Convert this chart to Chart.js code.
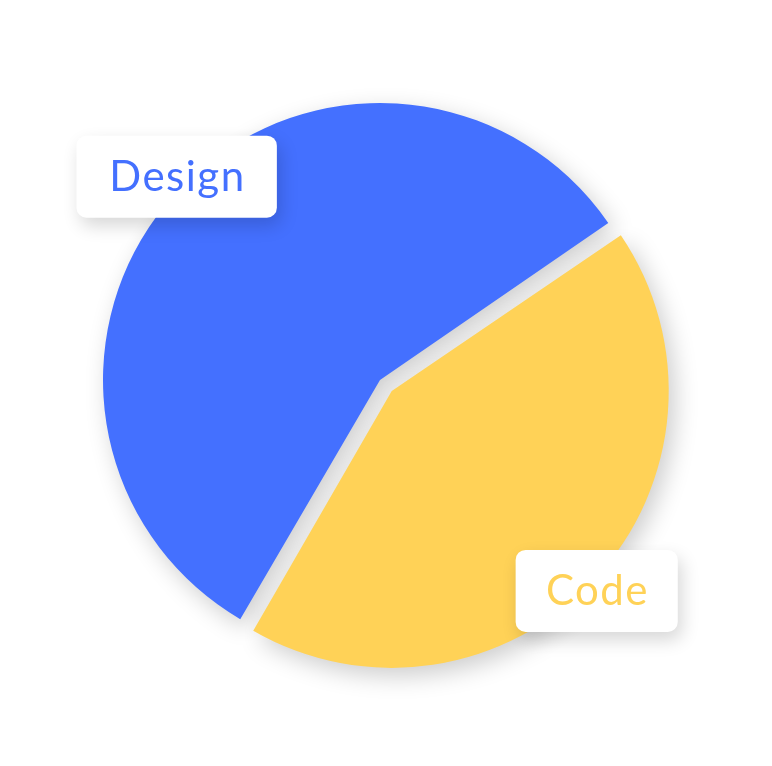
<!DOCTYPE html>
<html>
<head>
<meta charset="utf-8">
<script src="https://cdn.jsdelivr.net/npm/chart.js@4/dist/chart.umd.min.js"></script>
<style>
  html, body { margin: 0; padding: 0; background: #ffffff; }
  canvas { display: block; }
</style>
</head>
<body>
<canvas id="c" width="772" height="766"></canvas>
<script>
const categories = ["Design", "Code"];
const shares = [57, 43];
const sliceColors = ["#4470FF", "#FFD257"];
const sliceOffsets = [0, 64];

// Keep exploded slices at the same radius as the rest
// (Chart.js enlarges an offset arc by offset/4 * (1 - sin(circumference))).
const keepRadiusPlugin = {
  id: 'keepRadius',
  beforeDatasetsDraw(chart) {
    const meta = chart.getDatasetMeta(0);
    const baseR = meta.controller.outerRadius;
    meta.data.forEach((arc, i) => {
      const off = (chart.data.datasets[0].offset[i] || 0) / 4;
      const circ = arc.circumference;
      const fix = 1 - Math.sin(Math.min(Math.PI, circ || 0));
      arc.outerRadius = baseR - off * fix;
    });
  }
};

const shadowPlugin = {
  id: 'pieShadow',
  beforeDatasetsDraw(chart) {
    const ctx = chart.ctx;
    ctx.save();
    ctx.shadowColor = 'rgba(0,0,0,0.2)';
    ctx.shadowBlur = 24;
    ctx.shadowOffsetX = 6;
    ctx.shadowOffsetY = 8;
  },
  afterDatasetsDraw(chart) {
    chart.ctx.restore();
  }
};

const labelBoxPlugin = {
  id: 'labelBoxes',
  afterDraw(chart, args, opts) {
    const ctx = chart.ctx;
    const meta = chart.getDatasetMeta(0);
    const baseR = meta.controller.outerRadius;
    meta.data.forEach((arc, i) => {
      const mid = (arc.startAngle + arc.endAngle) / 2;
      const off = (chart.data.datasets[0].offset[i] || 0) / 4;
      const cx0 = arc.x + Math.cos(mid) * off;
      const cy0 = arc.y + Math.sin(mid) * off;
      const ang = opts.angles[i] * Math.PI / 180;
      const cx = cx0 + Math.cos(ang) * baseR * opts.distance[i];
      const cy = cy0 + Math.sin(ang) * baseR * opts.distance[i];
      ctx.save();
      ctx.font = opts.font;
      ctx.letterSpacing = opts.letterSpacing;
      const text = chart.data.labels[i];
      const tw = ctx.measureText(text).width;
      const w = tw + opts.padX[i] * 2;
      const h = opts.boxHeight;
      ctx.shadowColor = 'rgba(0,0,0,0.16)';
      ctx.shadowBlur = 18;
      ctx.shadowOffsetX = 4;
      ctx.shadowOffsetY = 8;
      ctx.fillStyle = '#ffffff';
      ctx.beginPath();
      ctx.roundRect(cx - w / 2, cy - h / 2, w, h, 10);
      ctx.fill();
      ctx.shadowColor = 'transparent';
      ctx.fillStyle = sliceColors[i];
      ctx.textAlign = 'center';
      ctx.textBaseline = 'middle';
      ctx.fillText(text, cx + parseFloat(opts.letterSpacing) / 2, cy + 1);
      ctx.restore();
    });
  }
};

new Chart(document.getElementById('c'), {
  type: 'pie',
  data: {
    labels: categories,
    datasets: [{
      data: shares,
      backgroundColor: sliceColors,
      borderWidth: 0,
      offset: sliceOffsets
    }]
  },
  options: {
    responsive: false,
    animation: false,
    events: [],
    rotation: 210.3,
    radius: 277,
    layout: { padding: { left: 0, right: 12, top: 0, bottom: 6 } },
    plugins: {
      legend: { display: false },
      tooltip: { enabled: false },
      labelBoxes: {
        angles: [-135, 44.3],
        distance: [1.038, 1.034],
        font: '400 42px Lato',
        letterSpacing: '1.5px',
        padX: [32, 29.5],
        boxHeight: 82
      }
    }
  },
  plugins: [keepRadiusPlugin, shadowPlugin, labelBoxPlugin]
});
</script>
</body>
</html>
